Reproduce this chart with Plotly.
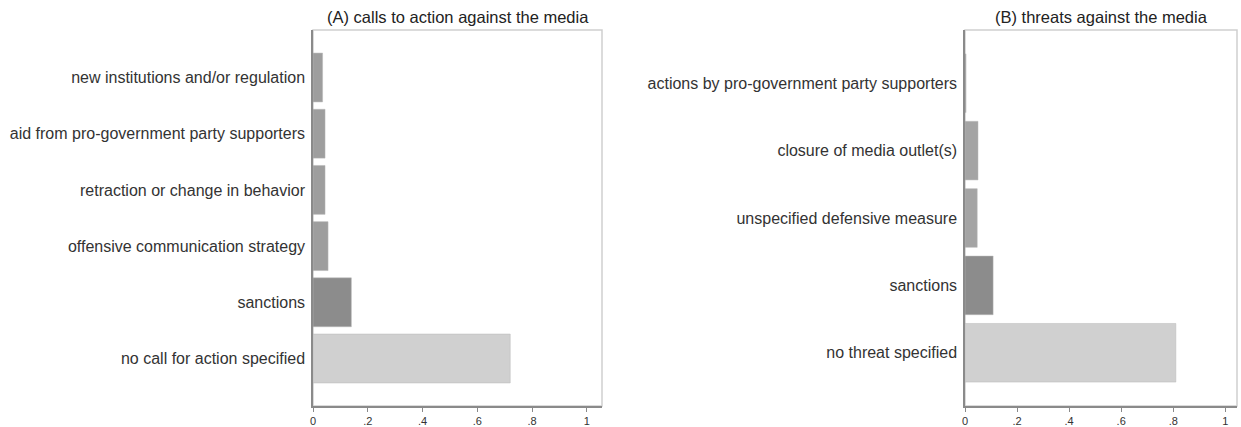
import plotly.graph_objects as go

# Panel A data (top to bottom)
cats_a = ["new institutions and/or regulation",
          "aid from pro-government party supporters",
          "retraction or change in behavior",
          "offensive communication strategy",
          "sanctions",
          "no call for action specified"]
vals_a = [0.035, 0.044, 0.044, 0.055, 0.14, 0.72]
cols_a = ["#9e9e9e", "#9e9e9e", "#9e9e9e", "#9e9e9e", "#8c8c8c", "#d0d0d0"]

# Panel B data (top to bottom)
cats_b = ["actions by pro-government party supporters",
          "closure of media outlet(s)",
          "unspecified defensive measure",
          "sanctions",
          "no threat specified"]
vals_b = [0.004, 0.05, 0.047, 0.108, 0.81]
cols_b = ["#9e9e9e", "#a4a4a4", "#a4a4a4", "#8c8c8c", "#d0d0d0"]

tick_vals = [0, 0.2, 0.4, 0.6, 0.8, 1]
tick_text = ["0", ".2", ".4", ".6", ".8", "1"]

titles = ["(A) calls to action against the media", "(B) threats against the media"]

W, H = 1241, 427
FONT = "Liberation Sans, Arial, sans-serif"

fig = go.Figure()
fig.add_trace(go.Bar(x=vals_a, y=cats_a, orientation="h", xaxis="x", yaxis="y",
                     marker=dict(color=cols_a, line=dict(color="#b8b8b8", width=0.5)),
                     width=0.87, showlegend=False))
fig.add_trace(go.Bar(x=vals_b, y=cats_b, orientation="h", xaxis="x2", yaxis="y2",
                     marker=dict(color=cols_b, line=dict(color="#b8b8b8", width=0.5)),
                     width=0.87, showlegend=False))

dom_a = [313 / W, 602 / W]
dom_b = [965 / W, 1237 / W]
dom_y = [21 / H, 397 / H]

xcommon = dict(range=[0, 1.055], tickvals=tick_vals, ticktext=tick_text,
               showgrid=False, zeroline=False, showline=True, linecolor="#8a8a8a",
               linewidth=1.5, ticks="outside", ticklen=4, tickcolor="#8a8a8a",
               tickfont=dict(size=11, color="#333333", family=FONT), automargin=False)
ycommon = dict(showgrid=False, zeroline=False, showline=True, linecolor="#8a8a8a",
               linewidth=1.5, ticks="", ticklabelstandoff=3,
               tickfont=dict(size=16, color="#333333", family=FONT), automargin=False,
               type="category")

fig.update_layout(
    template="none",
    width=W, height=H,
    margin=dict(l=0, r=0, t=0, b=0),
    paper_bgcolor="white", plot_bgcolor="white",
    bargap=0.13,
    xaxis=dict(domain=dom_a, anchor="y", **xcommon),
    yaxis=dict(domain=dom_y, anchor="x", range=[5.845, -0.845], **ycommon),
    xaxis2=dict(domain=dom_b, anchor="y2", **{**xcommon, "range": [0, 1.045]}),
    yaxis2=dict(domain=dom_y, anchor="x2", range=[4.79, -0.79], **ycommon),
)

# light outer frame (top/right) of each plot region
for d in (dom_a, dom_b):
    fig.add_shape(type="rect", xref="paper", yref="paper",
                  x0=d[0], x1=d[1], y0=dom_y[0], y1=dom_y[1],
                  line=dict(color="#cfcfcf", width=1.5), layer="below")

for t, d in zip(titles, (dom_a, dom_b)):
    fig.add_annotation(text=t, xref="paper", yref="paper",
                       x=(d[0] + d[1]) / 2, y=(H - 17) / H,
                       showarrow=False, xanchor="center", yanchor="middle",
                       font=dict(size=16.5, color="#222222", family=FONT))

fig.write_html("out.html")
